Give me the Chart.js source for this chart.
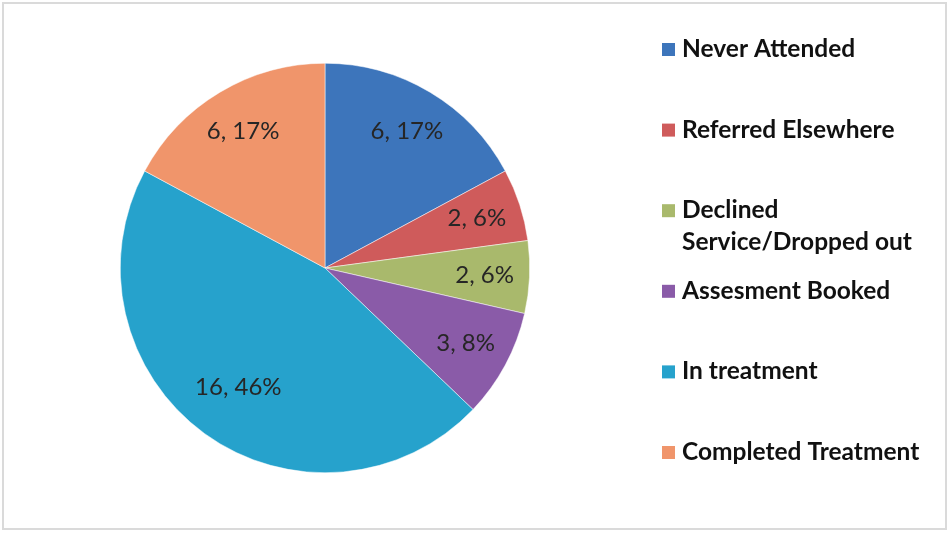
<!DOCTYPE html>
<html>
<head>
<meta charset="utf-8">
<script src="https://cdn.jsdelivr.net/npm/chart.js@4.4.1/dist/chart.umd.min.js"></script>
<style>
  html, body { margin: 0; padding: 0; background: #fff; }
  #wrap { width: 951px; height: 533px; position: relative; }
</style>
</head>
<body>
  <div id="wrap">
    <canvas id="myChart" width="951" height="533"></canvas>
  </div>
  <script>
    // referral outcomes
    const categories = ['Never Attended', 'Referred Elsewhere', 'Declined\nService/Dropped out',
      'Assesment Booked', 'In treatment', 'Completed Treatment'];
    const counts = [6, 2, 2, 3, 16, 6];
    const percents = [17, 6, 6, 8, 46, 17];
    const colours = ['#3d75bb', '#cf5b5b', '#a9b96c', '#8a5ba8', '#26a2cc', '#f0956b'];

    // "count, pct%" drawn inside each slice
    const sliceLabels = {
      id: 'sliceLabels',
      afterDatasetsDraw(chart) {
        const ctx = chart.ctx;
        const arcs = chart.getDatasetMeta(0).data;
        ctx.save();
        ctx.font = '24px Lato';
        ctx.fillStyle = '#262626';
        ctx.textAlign = 'center';
        ctx.textBaseline = 'middle';
        arcs.forEach((arc, i) => {
          const mid = (arc.startAngle + arc.endAngle) / 2;
          const r = arc.outerRadius * (i === 4 ? 0.72 : 0.78);
          const x = arc.x + Math.cos(mid) * r;
          const y = arc.y + Math.sin(mid) * r;
          ctx.fillText(counts[i] + ', ' + percents[i] + '%', x, y);
        });
        ctx.restore();
      }
    };

    // legend on the right, one row every 80px; second lines hang under the first
    const sideLegend = {
      id: 'sideLegend',
      afterDraw(chart) {
        const ctx = chart.ctx;
        ctx.save();
        ctx.font = 'bold 24.5px Lato';
        ctx.textBaseline = 'middle';
        ctx.textAlign = 'left';
        categories.forEach((name, i) => {
          const y = 49 + i * 80.6;
          ctx.fillStyle = colours[i];
          ctx.fillRect(662, y - 6, 13, 13);
          ctx.fillStyle = '#111';
          name.split('\n').forEach((line, j) => {
            ctx.fillText(line, 682, y + j * 32);
          });
        });
        // thin grey frame round the chart
        ctx.strokeStyle = '#dadada';
        ctx.lineWidth = 2;
        ctx.strokeRect(3, 3, 943, 526);
        ctx.restore();
      }
    };

    new Chart('myChart', {
      type: 'pie',
      data: {
        labels: categories,
        datasets: [{
          data: counts,
          backgroundColor: colours,
          borderColor: '#ffffff',
          borderWidth: 0.5
        }]
      },
      options: {
        responsive: false,
        animation: false,
        layout: {
          padding: { left: 120, top: 63, right: 421, bottom: 60 }
        },
        plugins: {
          legend: { display: false },
          tooltip: { enabled: false }
        }
      },
      plugins: [sliceLabels, sideLegend]
    });
  </script>
</body>
</html>
